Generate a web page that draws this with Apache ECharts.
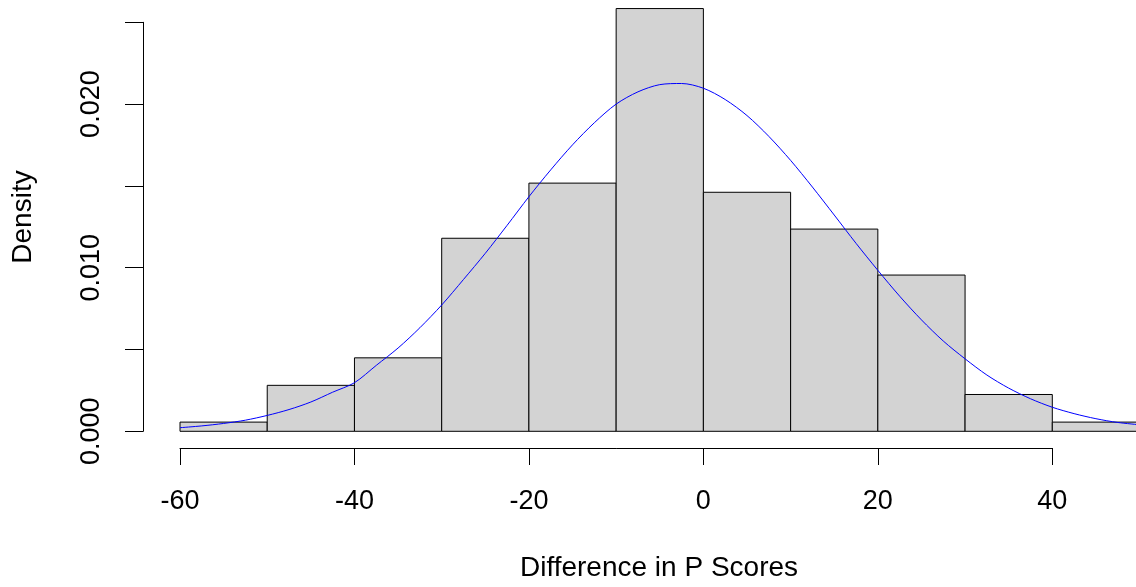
<!DOCTYPE html>
<html>
<head>
<meta charset="utf-8">
<script src="https://cdn.jsdelivr.net/npm/echarts@6/dist/echarts.min.js"></script>
<style>
html,body{margin:0;padding:0;background:#fff;}
#chart{width:1136px;height:587px;}
</style>
</head>
<body>
<div id="chart"></div>
<script>
// ---- data ----
const breaks = [-60, -50, -40, -30, -20, -10, 0, 10, 20, 30, 40, 50];
const densities = [0.000562, 0.00281, 0.00449, 0.0118, 0.01517, 0.02584, 0.01461, 0.01236, 0.00955, 0.00225, 0.000562];
const curveX = [-60, -57.5, -55, -52.5, -50, -47.5, -45, -42.5, -40, -37.5, -35, -32.5, -30, -27.5, -25, -22.5, -20, -17.5, -15, -12.5, -10, -7.5, -5, -2.5, 0, 2.5, 5, 7.5, 10, 12.5, 15, 17.5, 20, 22.5, 25, 27.5, 30, 32.5, 35, 37.5, 40, 42.5, 45, 47.5, 50];
const curveY = [0.00022, 0.00033, 0.00048, 0.00068, 0.00097, 0.00133, 0.00179, 0.00239, 0.00297, 0.00403, 0.00509, 0.00633, 0.00772, 0.00928, 0.01088, 0.01259, 0.01434, 0.01598, 0.01751, 0.01886, 0.02000, 0.02075, 0.02119, 0.02126, 0.02097, 0.02028, 0.0193, 0.01803, 0.01656, 0.01493, 0.01322, 0.01149, 0.00984, 0.00826, 0.00681, 0.00552, 0.00443, 0.00344, 0.00264, 0.00199, 0.00147, 0.00108, 0.00077, 0.00054, 0.00040];
const xTickValues = [-60, -40, -20, 0, 20, 40];
const xTickLabels = ['-60', '-40', '-20', '0', '20', '40'];
const yTickValues = [0, 0.005, 0.010, 0.015, 0.020, 0.025];
const yTickLabels = ['0.000', '', '0.010', '', '0.020', ''];
const xTitle = 'Difference in P Scores';
const yTitle = 'Density';

// ---- layout (pixels) ----
const FONT = 'Liberation Sans, Arial, sans-serif';
const pxPerX = 8.723;          // pixels per x unit
const x0px = 180;              // pixel of x = -60
const pxPerY = 16360;          // pixels per density unit
const y0px = 431.3;            // pixel of density 0
const xMin = -64.4, xMax = 54.4;
const yMin = -0.001, yMax = 0.027;

const mainLeft = x0px + (xMin - breaks[0]) * pxPerX;
const mainWidth = (xMax - xMin) * pxPerX;
const mainTop = y0px - yMax * pxPerY;
const mainHeight = (yMax - yMin) * pxPerY;

const binData = densities.map((d, i) => [breaks[i], breaks[i + 1], d]);
const curveData = curveX.map((x, i) => [x, curveY[i]]);

const chart = echarts.init(document.getElementById('chart'), null, {renderer: 'canvas'});
chart.setOption({
  animation: false,
  backgroundColor: '#ffffff',
  grid: [
    {left: mainLeft, top: mainTop, width: mainWidth, height: mainHeight, containLabel: false, outerBoundsMode: 'none'},
    {left: 143, top: y0px - 0.025 * pxPerY, width: 10, height: 0.025 * pxPerY, containLabel: false, outerBoundsMode: 'none'},
    {left: x0px, top: 400, width: 100 * pxPerX, height: 48, containLabel: false, outerBoundsMode: 'none'}
  ],
  xAxis: [
    {type: 'value', gridIndex: 0, min: xMin, max: xMax, show: false},
    {type: 'value', gridIndex: 1, min: 0, max: 1, show: false},
    {type: 'value', gridIndex: 2, min: -60, max: 40, interval: 20, position: 'bottom',
      axisLine: {show: true, lineStyle: {color: '#000', width: 1}},
      axisTick: {show: true, inside: false, length: 17, lineStyle: {color: '#000', width: 1}},
      splitLine: {show: false},
      axisLabel: {show: true, margin: 40, color: '#000', fontSize: 27, fontFamily: FONT, lineHeight: 27,
        formatter: v => { const k = xTickValues.indexOf(Math.round(v)); return k >= 0 ? xTickLabels[k] : ''; }}
    }
  ],
  yAxis: [
    {type: 'value', gridIndex: 0, min: yMin, max: yMax, show: false},
    {type: 'value', gridIndex: 1, min: 0, max: 0.025, interval: 0.005, position: 'left',
      axisLine: {show: true, lineStyle: {color: '#000', width: 1}},
      axisTick: {show: true, inside: false, length: 18, lineStyle: {color: '#000', width: 1}},
      splitLine: {show: false},
      axisLabel: {show: true, rotate: 90, margin: 38, color: '#000', fontSize: 27, fontFamily: FONT, lineHeight: 27,
        formatter: v => { const k = Math.round(v / 0.005); return yTickLabels[k] || ''; }}
    },
    {type: 'value', gridIndex: 2, min: 0, max: 1, show: false}
  ],
  graphic: [
    {type: 'text', x: 659, y: 568, style: {text: xTitle, fill: '#000', fontSize: 28, fontFamily: FONT, align: 'center', verticalAlign: 'middle'}},
    {type: 'text', x: 23, y: 217, rotation: Math.PI / 2, style: {text: yTitle, fill: '#000', fontSize: 28, fontFamily: FONT, align: 'center', verticalAlign: 'middle'}}
  ],
  series: [
    {
      type: 'custom', xAxisIndex: 0, yAxisIndex: 0, data: binData, clip: false,
      renderItem: function (params, api) {
        const p1 = api.coord([api.value(0), api.value(2)]);
        const p2 = api.coord([api.value(1), 0]);
        return {
          type: 'rect',
          shape: {x: p1[0], y: p1[1], width: p2[0] - p1[0], height: p2[1] - p1[1]},
          style: {fill: '#D3D3D3', stroke: '#000', lineWidth: 1}
        };
      }
    },
    {
      type: 'line', xAxisIndex: 0, yAxisIndex: 0, data: curveData, smooth: 0.3,
      showSymbol: false, symbol: 'none', clip: false,
      lineStyle: {color: '#0000FF', width: 1}
    }
  ]
});
</script>
</body>
</html>
